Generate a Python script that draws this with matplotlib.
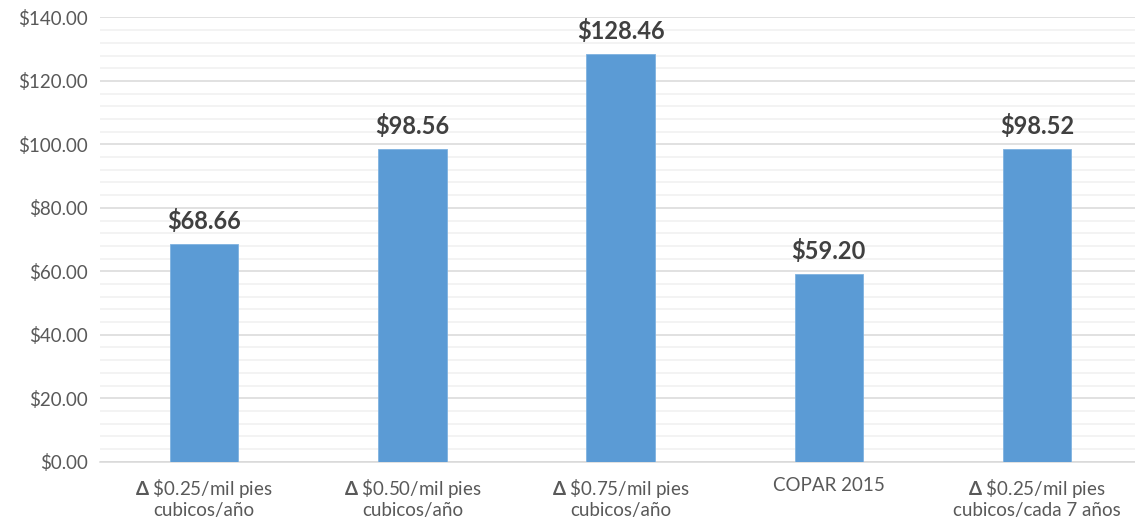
import numpy as np
import matplotlib
matplotlib.use("Agg")
from matplotlib import pyplot as plt
from matplotlib.ticker import MultipleLocator, FuncFormatter

categories = [
    r"$\mathbf{\Delta}$ \$0.25/mil pies" + "\ncubicos/año",
    r"$\mathbf{\Delta}$ \$0.50/mil pies" + "\ncubicos/año",
    r"$\mathbf{\Delta}$ \$0.75/mil pies" + "\ncubicos/año",
    "COPAR 2015",
    r"$\mathbf{\Delta}$ \$0.25/mil pies" + "\ncubicos/cada 7 años",
]
values = [68.66, 98.56, 128.46, 59.20, 98.52]


def main():
    plt.rcParams['font.family'] = ['Lato', 'DejaVu Sans']
    plt.rcParams['mathtext.fontset'] = 'custom'
    plt.rcParams['mathtext.bf'] = 'Lato:bold'
    plt.rcParams['mathtext.rm'] = 'Lato'

    fig = plt.figure(figsize=(11.35, 5.29), dpi=100)
    ax = fig.add_axes([100 / 1135, 0.1272, 1 - 100 / 1135, 0.967 - 0.1272])

    x = np.arange(len(values))
    bars = ax.bar(x, values, width=0.33, color='#5B9BD5', edgecolor='#7FB2E0',
                  linewidth=0.6, zorder=3)

    for b, v in zip(bars, values):
        ax.annotate(f"${v:,.2f}", xy=(b.get_x() + b.get_width() / 2, v),
                    xytext=(0, 8), textcoords='offset points', ha='center', va='bottom',
                    fontsize=17, fontweight='bold', color='#404040')

    ax.set_ylim(0, 140)
    ax.set_xlim(-0.5, 4.47)
    ax.yaxis.set_major_locator(MultipleLocator(20))
    ax.yaxis.set_minor_locator(MultipleLocator(4))
    ax.yaxis.set_major_formatter(FuncFormatter(lambda v, p: f"${v:.2f}"))
    ax.grid(axis='y', which='major', color='#D9D9D9', linewidth=1.1, zorder=0)
    ax.grid(axis='y', which='minor', color='#F0F0F0', linewidth=1.1, zorder=0)
    ax.set_axisbelow(True)

    ax.set_xticks(x)
    ax.set_xticklabels(categories, fontsize=13.5, color='#595959', linespacing=1.15)
    ax.tick_params(axis='x', length=0, pad=11)
    ax.tick_params(axis='y', which='both', length=0, labelsize=13.5, labelcolor='#595959', pad=9)

    for s in ['top', 'right', 'left']:
        ax.spines[s].set_visible(False)
    ax.spines['bottom'].set_color('#D9D9D9')
    ax.spines['bottom'].set_linewidth(1.1)

    fig.savefig('out.png', dpi=100)


if __name__ == "__main__":
    main()
